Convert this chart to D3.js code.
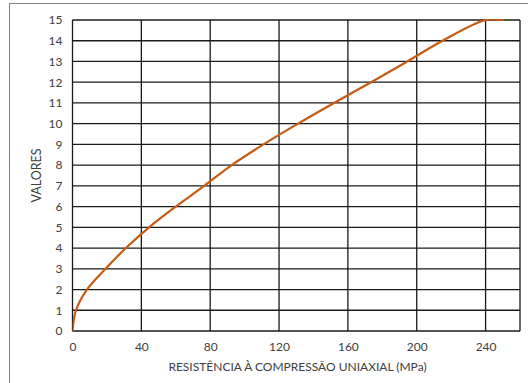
<!DOCTYPE html>
<html>
<head>
<meta charset="utf-8">
<script src="https://cdn.jsdelivr.net/npm/d3@7"></script>
<style>
  html, body { margin: 0; padding: 0; background: #fff; }
  svg { display: block; }
  text { font-family: Lato, "Open Sans", sans-serif; fill: #404040; }
</style>
</head>
<body>
<svg id="chart" width="528" height="383"></svg>
<script>
// Uniaxial compressive strength (MPa) against the rated value
const strength = [0, 2, 8.4, 19.2, 31, 44.5, 60, 76.5, 92.5, 111, 131, 152, 173.5, 194.5, 215, 240, 250];
const values   = [0, 1, 2, 3, 4, 5, 6, 7, 8, 9, 10, 11, 12, 13, 14, 15, 15];
const xTicks = [0, 40, 80, 120, 160, 200, 240];
const yTicks = [0, 1, 2, 3, 4, 5, 6, 7, 8, 9, 10, 11, 12, 13, 14, 15];
const xTitle = "RESISTÊNCIA À COMPRESSÃO UNIAXIAL (MPa)";
const yTitle = "VALORES";

const svg = d3.select("#chart");
const W = 528, H = 383;
const plot = { left: 72.5, top: 20, right: 520, bottom: 331 };

// outer chart frame
svg.append("rect")
  .attr("x", 9.5).attr("y", 3.5)
  .attr("width", W).attr("height", H)
  .attr("fill", "none").attr("stroke", "#7f7f7f").attr("stroke-width", 1);

const x = d3.scaleLinear().domain([0, 260]).range([plot.left, plot.right]);
const y = d3.scaleLinear().domain([0, 15]).range([plot.bottom, plot.top]);

// gridlines
const grid = svg.append("g").attr("stroke", "#1a1a1a").attr("stroke-width", 1.3);
grid.selectAll("line.h").data(yTicks).join("line")
  .attr("x1", plot.left).attr("x2", plot.right)
  .attr("y1", d => y(d)).attr("y2", d => y(d));
grid.selectAll("line.v").data(xTicks).join("line")
  .attr("y1", plot.top).attr("y2", plot.bottom)
  .attr("x1", d => x(d)).attr("x2", d => x(d));
grid.append("line")
  .attr("x1", plot.right).attr("x2", plot.right)
  .attr("y1", plot.top).attr("y2", plot.bottom);

// axes (labels only, gridlines drawn above)
const xAxis = svg.append("g")
  .attr("transform", `translate(0,${plot.bottom})`)
  .call(d3.axisBottom(x).tickValues(xTicks).tickSize(0).tickPadding(11));
const yAxis = svg.append("g")
  .attr("transform", `translate(${plot.left},0)`)
  .call(d3.axisLeft(y).tickValues(yTicks).tickSize(0).tickPadding(10));
[xAxis, yAxis].forEach(a => {
  a.select(".domain").remove();
  a.selectAll("text")
    .style("font-family", "Lato, 'Open Sans', sans-serif")
    .style("font-size", "12px")
    .attr("fill", "#404040");
});

// smoothed curve, clipped at the top of the plot
svg.append("clipPath").attr("id", "plot-clip")
  .append("rect")
  .attr("x", plot.left).attr("y", plot.top - 1)
  .attr("width", plot.right - plot.left).attr("height", plot.bottom - plot.top + 2);
const line = d3.line()
  .x((d, i) => x(strength[i]))
  .y((d, i) => y(values[i]))
  .curve(d3.curveCatmullRom.alpha(0.5));
svg.append("path")
  .datum(values)
  .attr("d", line)
  .attr("clip-path", "url(#plot-clip)")
  .attr("fill", "none")
  .attr("stroke", "#c65b14")
  .attr("stroke-width", 2.2)
  .attr("stroke-linecap", "round");

// axis titles
svg.append("text")
  .attr("x", (170 + 425) / 2).attr("y", 371)
  .attr("text-anchor", "middle")
  .style("font-size", "12px")
  .text(xTitle);
svg.append("text")
  .attr("transform", `translate(41,${(plot.top + plot.bottom) / 2}) rotate(-90)`)
  .attr("text-anchor", "middle")
  .style("font-size", "12.5px")
  .text(yTitle);
</script>
</body>
</html>
